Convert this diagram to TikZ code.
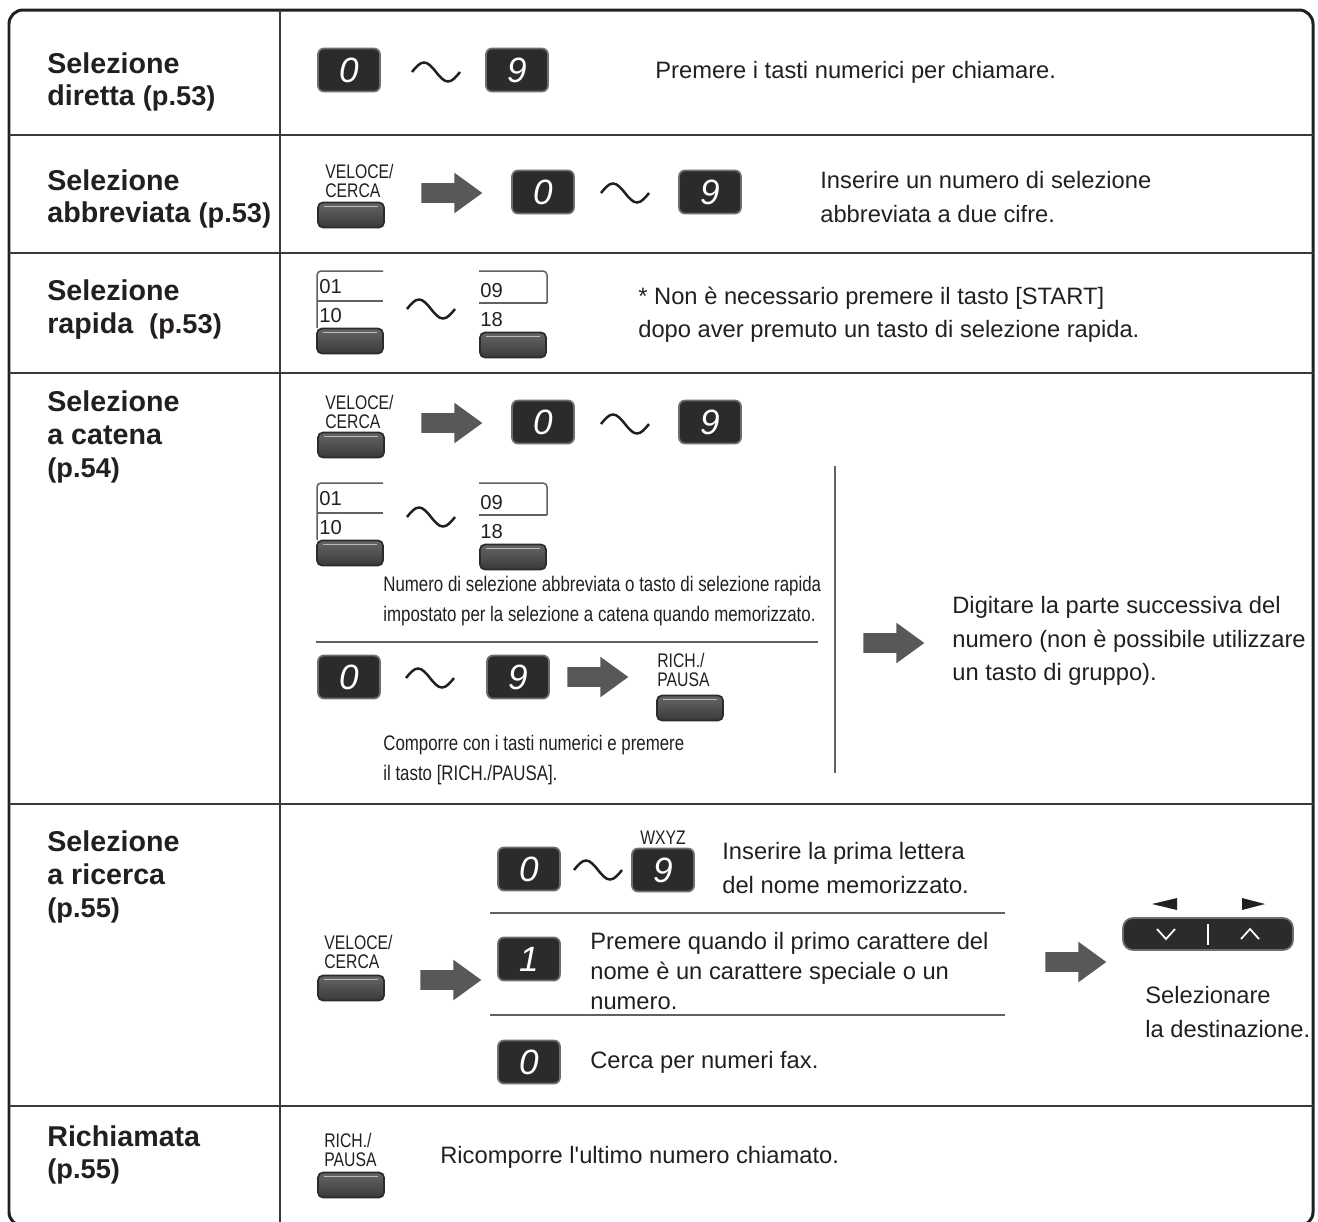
\documentclass[tikz,border=0pt]{standalone}
\usepackage{fontspec}
\setmainfont{Liberation Sans}
\newfontfamily\narrowfont[FakeStretch=0.8]{Liberation Sans}
\newfontfamily\quotefont{Liberation Sans}
\usetikzlibrary{positioning, shapes.arrows}

\definecolor{inkgray}{HTML}{231F20}
\definecolor{rulegray}{HTML}{3A3A3A}
\definecolor{keydark}{HTML}{2B2B2B}
\definecolor{keyrim}{HTML}{6E6E6E}
\definecolor{btntop}{HTML}{666666}
\definecolor{btnbot}{HTML}{3A3A3A}
\definecolor{arrowgray}{HTML}{58585A}

\begin{document}
\begin{tikzpicture}[x=0.02cm, y=-0.02cm,
    frameline/.style={draw=inkgray, line width=0.06cm},
    gridline/.style={draw=rulegray, line width=0.04cm},
    thinrule/.style={draw=rulegray!80, line width=0.035cm},
    sdline/.style={draw=rulegray!80, line width=0.03cm},
    tildeline/.style={draw=inkgray, line width=0.05cm},
    numkey/.style={rectangle, rounded corners=0.12cm, fill=keydark, draw=keyrim, line width=0.035cm,
        minimum width=1.24cm, minimum height=0.86cm, inner sep=0, text=white,
        font=\fontsize{20}{20}\selectfont\itshape},
    btn/.style={rectangle, rounded corners=0.1cm, top color=btntop, bottom color=btnbot, draw=keydark,
        line width=0.035cm, minimum width=1.32cm, minimum height=0.5cm, inner sep=0,
        path picture={\draw[white!55!btntop, line width=0.02cm]
            ([xshift=0.12cm, yshift=-0.07cm]path picture bounding box.north west) --
            ([xshift=-0.12cm, yshift=-0.07cm]path picture bounding box.north east);}},
    fatarrow/.style={single arrow, fill=arrowgray, inner xsep=0, inner ysep=0.19cm,
        minimum height=1.22cm, single arrow head extend=0.21cm, single arrow tip angle=72},
    rowlabel/.style={anchor=west, align=left, inner sep=0, text=inkgray,
        font=\fontsize{16.3}{18.7}\selectfont\bfseries},
    body/.style={anchor=west, align=left, inner sep=0, text=inkgray,
        font=\fontsize{13.5}{18.9}\selectfont},
    caption/.style={anchor=west, align=left, inner sep=0, text=inkgray,
        font=\fontsize{12}{17.6}\selectfont\narrowfont},
    keylabel/.style={anchor=west, align=left, inner sep=0, text=inkgray,
        font=\fontsize{11.2}{11.2}\selectfont\narrowfont},
    sdtext/.style={anchor=west, inner sep=0, text=inkgray, font=\fontsize{11.5}{11.5}\selectfont}]

    \useasboundingbox (0,0) rectangle (1318,1221);

    % table
    \draw[frameline, rounded corners=0.28cm] (9,10) rectangle (1313,1226);
    \draw[gridline] (280,10) -- (280,1226);
    \foreach \y in {135,253,373,804,1106}
        \draw[gridline] (9,\y) -- (1313,\y);

    % left column
    \node[rowlabel] (r1) at (47,82) {Selezione\\diretta {\fontsize{15.5}{18.7}\selectfont(p.53)}};
    \node[rowlabel] (r2) at (47,199) {Selezione\\abbreviata {\fontsize{15.5}{18.7}\selectfont(p.53)}};
    \node[rowlabel] (r3) at (47,310) {Selezione\\rapida\ \ {\fontsize{15.5}{18.7}\selectfont(p.53)}};
    \node[rowlabel] (r4) at (47,437) {Selezione\\a catena\\{\fontsize{15.5}{18.7}\selectfont(p.54)}};
    \node[rowlabel] (r5) at (47,877) {Selezione\\a ricerca\\{\fontsize{15.5}{18.7}\selectfont(p.55)}};
    \node[rowlabel] (r6) at (47,1155) {Richiamata\\{\fontsize{15.5}{18.7}\selectfont(p.55)}};

    % tilde marks
    \foreach \n/\x/\y in {t1/436/72, t2/625/193, t3/431/309, t4/625/424, t5/431/517, t6/430/678, t7/598/870}
    {
        \coordinate (\n) at (\x,\y);
        \draw[tildeline] ([xshift=-0.48cm]\n) sin ++(0.24cm,0.19cm) cos ++(0.24cm,-0.19cm)
            sin ++(0.24cm,-0.19cm) cos ++(0.24cm,0.19cm);
    }

    % row 1
    \node[numkey] (k10) at (349,70) {0};
    \node[numkey] (k19) at (517,70) {9};
    \node[body] (d1) at (655,72) {Premere i tasti numerici per chiamare.};

    % row 2
    \node[btn] (b2) at (351,215) {};
    \node[keylabel] (l2) at (325,181) {VELOCE/\\CERCA};
    \node[fatarrow] (a2) at (445,193) {};
    \node[numkey] (k20) at (543,192) {0};
    \node[numkey] (k29) at (710,192) {9};
    \node[body] (d2) at (820,197) {Inserire un numero di selezione\\abbreviata a due cifre.};

    % row 3
    \draw[sdline, rounded corners=0.08cm] (383,271) -- (317,271) -- (317,328);
    \draw[sdline] (317,301) -- (383,301);
    \draw[sdline, rounded corners=0.08cm] (479,271) -- (547,271) -- (547,303);
    \draw[sdline] (479,303) -- (547,303);
    \node[sdtext] (s01) at (319,287) {01};
    \node[sdtext] (s10) at (319,316) {10};
    \node[sdtext] (s09) at (480,291) {09};
    \node[sdtext] (s18) at (480,320) {18};
    \node[btn] (b3a) at (350,341) {};
    \node[btn] (b3b) at (513,345) {};
    \node[body] (d3) at (638,315) {* Non è necessario premere il tasto [START]\\dopo aver premuto un tasto di selezione rapida.};

    % row 4
    \node[btn] (b4) at (351,445) {};
    \node[keylabel] (l4) at (325,412) {VELOCE/\\CERCA};
    \node[fatarrow] (a4) at (445,423) {};
    \node[numkey] (k40) at (543,422) {0};
    \node[numkey] (k49) at (710,422) {9};

    \draw[sdline, rounded corners=0.08cm] (383,483) -- (317,483) -- (317,540);
    \draw[sdline] (317,513) -- (383,513);
    \draw[sdline, rounded corners=0.08cm] (479,483) -- (547,483) -- (547,515);
    \draw[sdline] (479,515) -- (547,515);
    \node[sdtext] (s401) at (319,499) {01};
    \node[sdtext] (s410) at (319,528) {10};
    \node[sdtext] (s409) at (480,503) {09};
    \node[sdtext] (s418) at (480,532) {18};
    \node[btn] (b4a) at (350,553) {};
    \node[btn] (b4b) at (513,557) {};
    \node[caption] (c4a) at (383,601) {Numero di selezione abbreviata o tasto di selezione rapida\\impostato per la selezione a catena quando memorizzato.};
    \draw[thinrule] (316,642) -- (818,642);

    \node[numkey] (k50) at (349,677) {0};
    \node[numkey] (k59) at (518,677) {9};
    \node[fatarrow] (a5) at (591,677) {};
    \node[btn] (b5) at (690,708) {};
    \node[keylabel] (l5) at (657,670) {RICH./\\PAUSA};
    \node[caption] (c4b) at (383,760) {Comporre con i tasti numerici e premere\\il tasto [RICH./PAUSA].};

    \draw[thinrule] (835,466) -- (835,773);
    \node[fatarrow] (a6) at (887,643) {};
    \node[body] (d4) at (952,641) {Digitare la parte successiva del\\numero (non è possibile utilizzare\\un tasto di gruppo).};

    % row 5
    \node[btn] (b6) at (351,988) {};
    \node[keylabel] (l6) at (324,952) {VELOCE/\\CERCA};
    \node[fatarrow] (a7) at (444,980) {};
    \node[numkey] (k60) at (529,869) {0};
    \node[numkey] (k69) at (663,870) {9};
    \node[keylabel, anchor=south] (w9) at (663,845) {WXYZ};
    \node[body] (d5) at (722,868) {Inserire la prima lettera\\del nome memorizzato.};
    \draw[thinrule] (490,913) -- (1005,913);
    \node[numkey] (k61) at (529,959) {1};
    \node[body, font=\fontsize{13.5}{17.3}\selectfont] (d6) at (590,971) {Premere quando il primo carattere del\\nome è un carattere speciale o un\\numero.};
    \draw[thinrule] (490,1015) -- (1005,1015);
    \node[numkey] (k62) at (529,1062) {0};
    \node[body] (d7) at (590,1062) {Cerca per numeri fax.};

    \node[fatarrow] (a8) at (1069,962) {};
    \node[rectangle, rounded corners=0.2cm, fill=keydark, draw=keyrim, line width=0.035cm,
        minimum width=3.4cm, minimum height=0.64cm] (nav) at (1208,934) {};
    \draw[white, line width=0.035cm] (1157,929) -- (1166,939) -- (1175,929);
    \draw[white, line width=0.035cm] (1208,924) -- (1208,945);
    \draw[white, line width=0.035cm] (1241,939) -- (1250,929) -- (1259,939);
    \fill[inkgray] (1152,904) -- (1177,898) -- (1177,910) -- cycle;
    \fill[inkgray] (1265,904) -- (1242,898) -- (1242,910) -- cycle;
    \node[body] (d8) at (1145,1012) {Selezionare\\la destinazione.};

    % row 6
    \node[btn] (b7) at (351,1185) {};
    \node[keylabel] (l7) at (324,1150) {RICH./\\PAUSA};
    \node[body] (d9) at (440,1157) {Ricomporre l{\quotefont'}ultimo numero chiamato.};
\end{tikzpicture}
\end{document}
